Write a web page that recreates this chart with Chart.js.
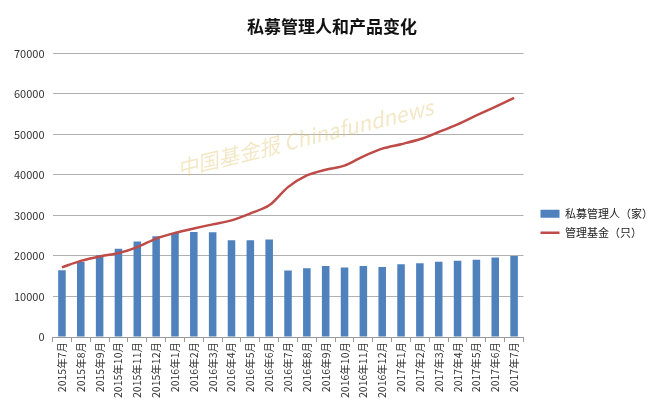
<!DOCTYPE html>
<html>
<head>
<meta charset="utf-8">
<script src="https://cdn.jsdelivr.net/npm/chart.js@4"></script>
<style>
  html, body { margin: 0; padding: 0; background: #fff; }
  #wrap { width: 658px; height: 415px; }
</style>
</head>
<body>
<div id="wrap"><canvas id="c" width="658" height="415"></canvas></div>
<script>
const months = ['2015年7月','2015年8月','2015年9月','2015年10月','2015年11月','2015年12月',
  '2016年1月','2016年2月','2016年3月','2016年4月','2016年5月','2016年6月','2016年7月',
  '2016年8月','2016年9月','2016年10月','2016年11月','2016年12月','2017年1月','2017年2月',
  '2017年3月','2017年4月','2017年5月','2017年6月','2017年7月'];

const managers = [16500, 18500, 20200, 21800, 23600, 24900, 25700, 25900, 25850, 23900, 23900, 24100,
  16400, 17000, 17550, 17150, 17550, 17300, 17950, 18200, 18600, 18800, 19050, 19600, 20000];

const funds = [17200, 18800, 19900, 20700, 22200, 24300, 25700, 26800, 27800, 28800, 30500, 32500,
  37000, 39900, 41300, 42300, 44600, 46500, 47600, 48800, 50600, 52500, 54700, 56800, 59000];

const FONT = '"Noto Sans CJK SC", "DejaVu Sans", sans-serif';

// 水印
const watermark = {
  id: 'watermark',
  beforeDatasetsDraw(chart) {
    const ctx = chart.ctx;
    ctx.save();
    ctx.translate(305, 138);
    ctx.rotate(-0.24);
    ctx.font = 'italic 21px ' + FONT;
    ctx.fillStyle = 'rgba(225, 195, 110, 0.4)';
    ctx.textAlign = 'center';
    ctx.textBaseline = 'middle';
    ctx.fillText('中国基金报 Chinafundnews', 0, 0);
    ctx.restore();
  }
};

// 图例离绘图区远一点
const legendGap = {
  id: 'legendGap',
  beforeInit(chart) {
    const fit = chart.legend.fit;
    chart.legend.fit = function () {
      fit.call(this);
      this.width += 4;
    };
  },
  afterLayout(chart) {
    chart.legend.left += 9;
    chart.legend.right += 9;
  }
};

new Chart(document.getElementById('c'), {
  data: {
    labels: months,
    datasets: [
      {
        type: 'line',
        label: '管理基金（只）',
        data: funds,
        borderColor: '#be4b48',
        backgroundColor: '#be4b48',
        borderWidth: 2.5,
        pointRadius: 0,
        tension: 0.3,
        order: 0,
        pointStyle: 'line'
      },
      {
        type: 'bar',
        label: '私募管理人（家）',
        data: managers,
        backgroundColor: '#4f81bd',
        barPercentage: 0.4,
        categoryPercentage: 1,
        order: 1,
        pointStyle: 'rect'
      }
    ]
  },
  options: {
    responsive: false,
    animation: false,
    layout: { padding: { left: 6, right: 0, top: 4, bottom: 17 } },
    plugins: {
      title: {
        display: true,
        text: '私募管理人和产品变化',
        color: '#111',
        font: { family: FONT, size: 17, weight: 'bold' },
        padding: { top: 12, bottom: 17 }
      },
      legend: {
        position: 'right',
        reverse: true,
        title: { display: true, text: ' ', font: { size: 12 }, padding: { top: 30, bottom: 0 } },
        labels: {
          color: '#222',
          font: { family: FONT, size: 11 },
          usePointStyle: true,
          pointStyleWidth: 19,
          boxHeight: 8,
          padding: 8
        }
      },
      tooltip: { enabled: false }
    },
    scales: {
      x: {
        grid: { display: true, drawOnChartArea: false, drawTicks: true, tickLength: 5, offset: true, color: '#999' },
        border: { color: '#999' },
        ticks: {
          color: '#333',
          font: { family: FONT, size: 10.5 },
          minRotation: 90,
          maxRotation: 90,
          autoSkip: false,
          padding: 0
        }
      },
      y: {
        min: 0,
        max: 70000,
        grid: { color: '#b0b0b0', drawTicks: false },
        border: { display: false },
        ticks: {
          stepSize: 10000,
          color: '#333',
          font: { family: FONT, size: 11 },
          padding: 8,
          callback: v => String(v)
        }
      }
    }
  },
  plugins: [watermark, legendGap]
});
</script>
</body>
</html>
